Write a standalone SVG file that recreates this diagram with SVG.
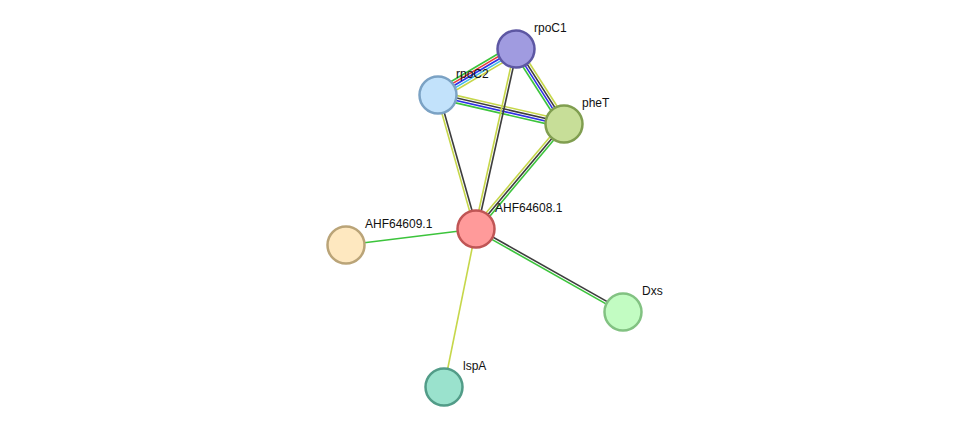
<svg xmlns="http://www.w3.org/2000/svg" width="975" height="433" viewBox="0 0 975 433">
<style>
.e line{stroke-width:1.6;fill:none}
.y{stroke:#c6d74a}.k{stroke:#3d3d3d}.b{stroke:#2f2fe6}.g{stroke:#3cc43c}.r{stroke:#e83a3a}.c{stroke:#3fb8e8}
.n circle{stroke-width:2.5}
.n text{font-family:"Liberation Sans",Arial,sans-serif;font-size:12px;fill:#111}
</style>
<rect width="975" height="433" fill="#fff"/>
<g id="edges" class="e">
<g transform="translate(516,49) rotate(149.47)">
<line class="g" x1="0" y1="5" x2="90.55" y2="5"/>
<line class="r" x1="0" y1="2.5" x2="90.55" y2="2.5"/>
<line class="b" x1="0" y1="0" x2="90.55" y2="0"/>
<line class="c" x1="0" y1="-2.5" x2="90.55" y2="-2.5"/>
<line class="y" x1="0" y1="-5" x2="90.55" y2="-5"/>
</g>
<g transform="translate(516,49) rotate(57.38)">
<line class="g" x1="0" y1="3.75" x2="89.05" y2="3.75"/>
<line class="b" x1="0" y1="1.25" x2="89.05" y2="1.25"/>
<line class="k" x1="0" y1="-1.25" x2="89.05" y2="-1.25"/>
<line class="y" x1="0" y1="-3.75" x2="89.05" y2="-3.75"/>
</g>
<g transform="translate(438,95) rotate(12.96)">
<line class="y" x1="0" y1="-3.75" x2="129.3" y2="-3.75"/>
<line class="k" x1="0" y1="-1.25" x2="129.3" y2="-1.25"/>
<line class="b" x1="0" y1="1.25" x2="129.3" y2="1.25"/>
<line class="g" x1="0" y1="3.75" x2="129.3" y2="3.75"/>
</g>
<g transform="translate(516,49) rotate(102.53)">
<line class="y" x1="0" y1="1.25" x2="184.4" y2="1.25"/>
<line class="k" x1="0" y1="-1.25" x2="184.4" y2="-1.25"/>
</g>
<g transform="translate(438,95) rotate(74.17)">
<line class="y" x1="0" y1="1.25" x2="139.3" y2="1.25"/>
<line class="k" x1="0" y1="-1.25" x2="139.3" y2="-1.25"/>
</g>
<g transform="translate(564,124) rotate(130.03)">
<line class="y" x1="0" y1="2.5" x2="137" y2="2.5"/>
<line class="k" x1="0" y1="0" x2="137" y2="0"/>
<line class="g" x1="0" y1="-2.5" x2="137" y2="-2.5"/>
</g>
<g transform="translate(476,229) rotate(29.45)">
<line class="k" x1="0" y1="-1.25" x2="168.8" y2="-1.25"/>
<line class="g" x1="0" y1="1.25" x2="168.8" y2="1.25"/>
</g>
<line class="g" x1="476" y1="229" x2="346" y2="245"/>
<line class="y" x1="476" y1="229" x2="444" y2="387"/>
</g>
<g id="rpoC1" class="n"><circle cx="516" cy="49" r="18.5" fill="#a09be0" stroke="#5d57a3"/><text x="534" y="32">rpoC1</text></g>
<g id="rpoC2" class="n"><circle cx="438" cy="95" r="18.5" fill="#c2e2fb" stroke="#7ba2c4"/><text x="456" y="78">rpoC2</text></g>
<g id="pheT" class="n"><circle cx="564" cy="124" r="18.5" fill="#c7de98" stroke="#809e50"/><text x="582" y="107">pheT</text></g>
<g id="AHF64608.1" class="n"><circle cx="476" cy="229" r="18.5" fill="#ff9a9a" stroke="#c05555"/><text x="495" y="212">AHF64608.1</text></g>
<g id="AHF64609.1" class="n"><circle cx="346" cy="245" r="18.5" fill="#fee8c0" stroke="#baa478"/><text x="365" y="228">AHF64609.1</text></g>
<g id="Dxs" class="n"><circle cx="623" cy="312" r="18.5" fill="#c2fcc2" stroke="#82c282"/><text x="642" y="295">Dxs</text></g>
<g id="lspA" class="n"><circle cx="444" cy="387" r="18.5" fill="#9ae2cd" stroke="#529c88"/><text x="463" y="370">lspA</text></g>
</svg>
